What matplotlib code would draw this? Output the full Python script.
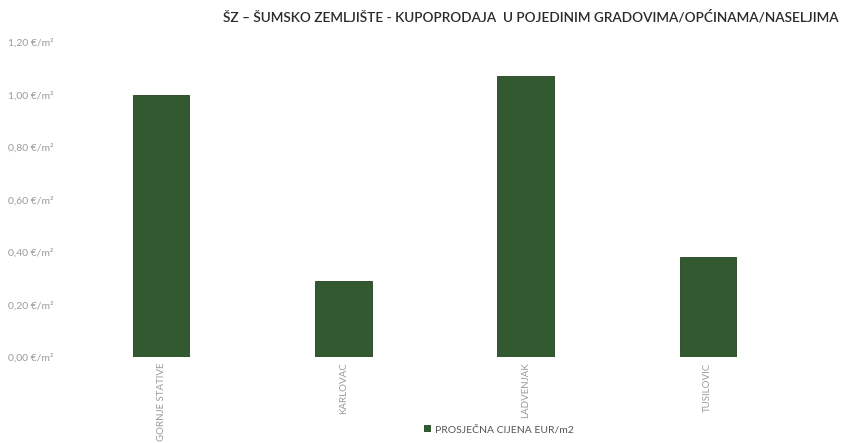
import numpy as np
import matplotlib
matplotlib.use("Agg")
from matplotlib import pyplot as plt
from matplotlib.patches import Patch

plt.rcParams['font.family'] = ['Lato', 'DejaVu Sans']

# podaci
mjesta = ["GORNJE STATIVE", "KARLOVAC", "LADVENJAK", "TUSILOVIC"]
cijene = [1.00, 0.29, 1.07, 0.38]
y_ticks = [0.0, 0.2, 0.4, 0.6, 0.8, 1.0, 1.2]
naslov = "ŠZ – ŠUMSKO ZEMLJIŠTE - KUPOPRODAJA  U POJEDINIM GRADOVIMA/OPĆINAMA/NASELJIMA"
legenda = "PROSJEČNA CIJENA EUR/m2"

zelena = "#32592f"
siva = "#9a9a9a"

fig = plt.figure(figsize=(8.46, 4.43), dpi=100)
ax = fig.add_axes([0.0827, 0.194, 0.8617, 0.711])

x = np.arange(len(mjesta))
ax.bar(x, cijene, width=0.31, color=zelena, edgecolor="#26401f", linewidth=0.6)

ax.set_xlim(-0.5, len(mjesta) - 0.5)
ax.set_ylim(0, 1.2)
ax.set_yticks(y_ticks)
ax.set_yticklabels([("%.2f" % v).replace(".", ",") + " €/m²" for v in y_ticks],
                   fontsize=7.5, color=siva)
ax.set_xticks(x)
ax.set_xticklabels(mjesta, rotation=90, fontsize=7, color=siva, va="top")
ax.tick_params(axis="both", length=0, pad=4)
ax.tick_params(axis="y", pad=12)
for s in ax.spines.values():
    s.set_visible(False)

fig.text(0.627, 0.963, naslov, ha="center", va="center", fontsize=9.8,
         fontweight="semibold", color="#2b2b2b")

fig.legend(handles=[Patch(facecolor=zelena, label=legenda)], loc="center",
           bbox_to_anchor=(0.59, 0.03), frameon=False, fontsize=7.5,
           handlelength=0.7, handleheight=0.7, handletextpad=0.4,
           labelcolor="#555555")

fig.savefig("out.png", dpi=100)
